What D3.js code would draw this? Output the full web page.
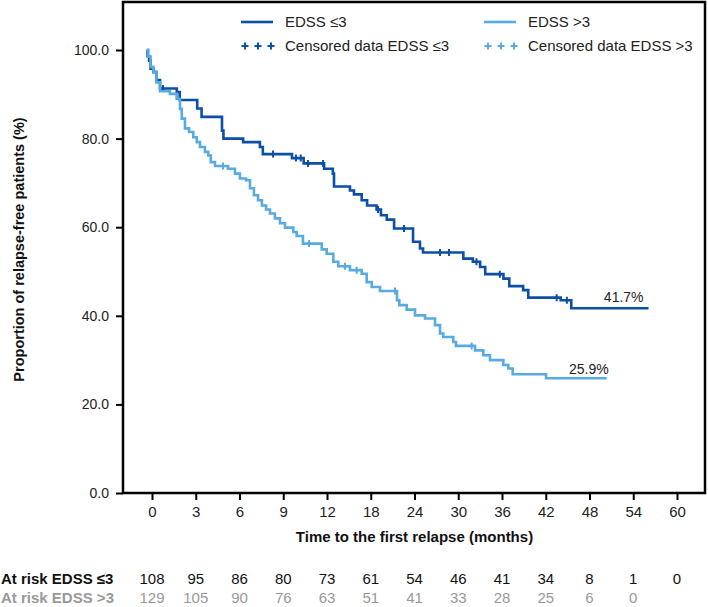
<!DOCTYPE html>
<html><head><meta charset="utf-8">
<script src="https://cdn.jsdelivr.net/npm/d3@7"></script>
<style>body{margin:0;background:#fff}svg{display:block}</style>
</head><body><svg id="c" width="708" height="607"></svg>
<script>
// ---- data ----
const xTicks = [0,3,6,9,12,18,24,30,36,42,48,54,60];
const yTicks = [0,20,40,60,80,100];
// Kaplan-Meier steps [month, % relapse-free]
const stepsLow = [[-0.36,100],[-0.3,98.6],[-0.2,97.6],[-0.1,95.8],[0.1,95.0],[0.3,93.2],[0.55,91.3],
 [1.7,90.5],[1.9,88.7],[3.1,86.8],[3.4,84.9],[4.8,81.8],[4.9,80.0],[6.25,79.2],[7.4,78.1],[7.6,76.5],
 [9.6,75.6],[10.4,74.4],[11.8,73.2],[12.8,72.1],[12.96,69.2],[15.15,68.3],[15.7,67.4],[16.76,66.1],
 [17.5,64.9],[18.8,64.0],[19.4,62.7],[20.2,61.7],[21.2,59.7],[23.8,56.7],[24.75,55.2],[25.17,54.3],
 [30.7,52.9],[32.0,52.2],[33.0,51.0],[33.7,49.4],[36.2,48.4],[37.0,46.7],[38.9,45.8],[39.6,44.1],
 [44.05,43.5],[45.5,41.7],[56.1,41.7]];
const censLow = [0.75,8.3,9.87,10.2,10.7,11.73,19.0,22.56,27.5,28.73,32.5,35.7,43.5,44.9];
const stepsHigh = [[-0.36,100],[-0.25,98.5],[-0.1,96.2],[0.1,95.1],[0.3,92.7],[0.55,90.7],[1.23,90.1],
 [1.69,89.0],[1.92,86.7],[2.04,84.5],[2.26,82.3],[2.54,81.5],[2.83,80.3],[3.07,79.2],[3.29,78.1],
 [3.63,77.0],[3.86,76.2],[4.03,74.7],[4.32,73.8],[5.21,73.2],[5.69,72.1],[6.03,71.0],[6.45,70.6],
 [6.72,68.8],[6.99,67.2],[7.27,66.1],[7.54,64.9],[7.82,64.0],[8.09,63.1],[8.43,62.0],[8.78,60.9],
 [9.12,59.9],[9.69,58.9],[9.92,58.0],[10.35,56.3],[11.64,55.0],[11.98,54.0],[12.86,52.2],[13.55,51.2],
 [15.15,50.3],[16.76,49.5],[17.44,47.6],[18.13,46.5],[19.27,45.6],[21.6,43.5],[21.92,42.4],[22.93,41.4],
 [24.07,40.1],[25.44,39.4],[26.81,37.9],[27.5,36.0],[27.95,35.2],[29.33,34.1],[29.69,33.2],[32.3,32.2],
 [33.44,31.1],[34.35,30.0],[36.18,28.9],[36.87,28.1],[37.47,26.8],[42.04,25.9],[50.36,25.9]];
const censHigh = [4.87,10.77,14.47,16.07,21.33,31.84];
const riskLow = [108,95,86,80,73,61,54,46,41,34,8,1,0];
const riskHigh = [129,105,90,76,63,51,41,33,28,25,6,0];
const finalLabels = ["41.7%","25.9%"];

const cDark = "#0b4fa6", cLight = "#58abe0";
const svg = d3.select("#c");
const L = 123, R = 705, T = 2, B = 493, x0 = L + 29, step = 43.75;
const x = d3.scaleLinear().domain(xTicks).range(xTicks.map((d,i)=>x0 + i*step));
const y = d3.scaleLinear().domain([0,100]).range([B, 50]);
const axisFont = "Arial, 'Liberation Sans', sans-serif";
const narrow = "'Liberation Sans Narrow', 'Arial Narrow', Arial, sans-serif";

// y axis
const ya = svg.append("g").attr("transform",`translate(${L},0)`)
  .call(d3.axisLeft(y).tickValues(yTicks).tickFormat(d3.format(".1f")).tickSize(7).tickPadding(7));
ya.select(".domain").remove();
ya.selectAll("line").attr("stroke","#000").attr("stroke-width",2);
ya.selectAll("text").attr("font-family",axisFont).attr("font-size",14).attr("fill","#222");

// x axis
const xa = svg.append("g").attr("transform",`translate(0,${B})`)
  .call(d3.axisBottom(x).tickValues(xTicks).tickFormat(d3.format("d")).tickSize(7).tickPadding(6));
xa.select(".domain").remove();
xa.selectAll("line").attr("stroke","#000").attr("stroke-width",2);
xa.selectAll("text").attr("font-family",narrow).attr("font-size",15).attr("fill","#222");

// frame
svg.append("rect").attr("x",L).attr("y",T).attr("width",R-L).attr("height",B-T)
  .attr("fill","none").attr("stroke","#000").attr("stroke-width",2.5);

// titles
svg.append("text").attr("x",x(24)).attr("y",542).attr("text-anchor","middle")
  .attr("font-family",narrow).attr("font-weight","bold").attr("font-size",15).attr("fill","#111")
  .text("Time to the first relapse (months)");
svg.append("text").attr("transform",`translate(24,${(T+B)/2+2}) rotate(-90)`).attr("text-anchor","middle")
  .attr("font-family",axisFont).attr("font-weight","bold").attr("font-size",14.5).attr("fill","#111")
  .text("Proportion of relapse-free patients (%)");

// curves
const line = d3.line().x(d=>x(d[0])).y(d=>y(d[1])).curve(d3.curveStepAfter);
function survAt(steps,t){let v=100;for(const s of steps){if(s[0]<=t)v=s[1];}return v;}
function cross(g,cx,cy,col,h,w){
  g.append("path").attr("d",`M${cx},${cy-h}V${cy+h}M${cx-w},${cy}H${cx+w}`)
   .attr("stroke",col).attr("stroke-width",2).attr("fill","none");
}
[[stepsLow,censLow,cDark],[stepsHigh,censHigh,cLight]].forEach(([st,ce,col])=>{
  svg.append("path").datum(st).attr("d",line).attr("fill","none").attr("stroke",col).attr("stroke-width",2.6);
  const g = svg.append("g");
  ce.forEach(t=>cross(g,x(t),y(survAt(st,t)),col,3.5,2));
});
svg.append("text").attr("x",x(stepsLow[stepsLow.length-1][0])-5).attr("y",y(41.7)-6)
  .attr("text-anchor","end").attr("font-family",axisFont).attr("font-size",14).attr("fill","#222").text(finalLabels[0]);
svg.append("text").attr("x",x(stepsHigh[stepsHigh.length-1][0])+2).attr("y",y(25.9)-4)
  .attr("text-anchor","end").attr("font-family",axisFont).attr("font-size",14).attr("fill","#222").text(finalLabels[1]);

// legend
const leg = [["EDSS \u22643",cDark,241,22,false],["EDSS >3",cLight,484,22,false],
             ["Censored data EDSS \u22643",cDark,241,46,true],["Censored data EDSS >3",cLight,484,46,true]];
leg.forEach(([t,col,lx,ly,isC])=>{
  if(isC){[0,13,26].forEach(o=>cross(svg,lx+4+o,ly,col,3.5,3.5));}
  else svg.append("line").attr("x1",lx).attr("x2",lx+32).attr("y1",ly).attr("y2",ly).attr("stroke",col).attr("stroke-width",2.6);
  svg.append("text").attr("x",lx+44).attr("y",ly+5).attr("font-family",axisFont).attr("font-size",15).attr("fill","#222").text(t);
});

// at-risk table
const rows = [["At risk EDSS \u22643",riskLow,"#111",584],["At risk EDSS >3",riskHigh,"#999",603]];
rows.forEach(([lab,vals,col,ry])=>{
  svg.append("text").attr("x",1).attr("y",ry).attr("font-family",narrow).attr("font-weight","bold")
    .attr("font-size",15).attr("fill",col).text(lab);
  svg.append("g").selectAll("text").data(vals).join("text").attr("x",(d,i)=>x(xTicks[i])).attr("y",ry)
    .attr("text-anchor","middle").attr("font-family",narrow).attr("font-size",15).attr("fill",col).text(d=>d);
});
</script></body></html>
